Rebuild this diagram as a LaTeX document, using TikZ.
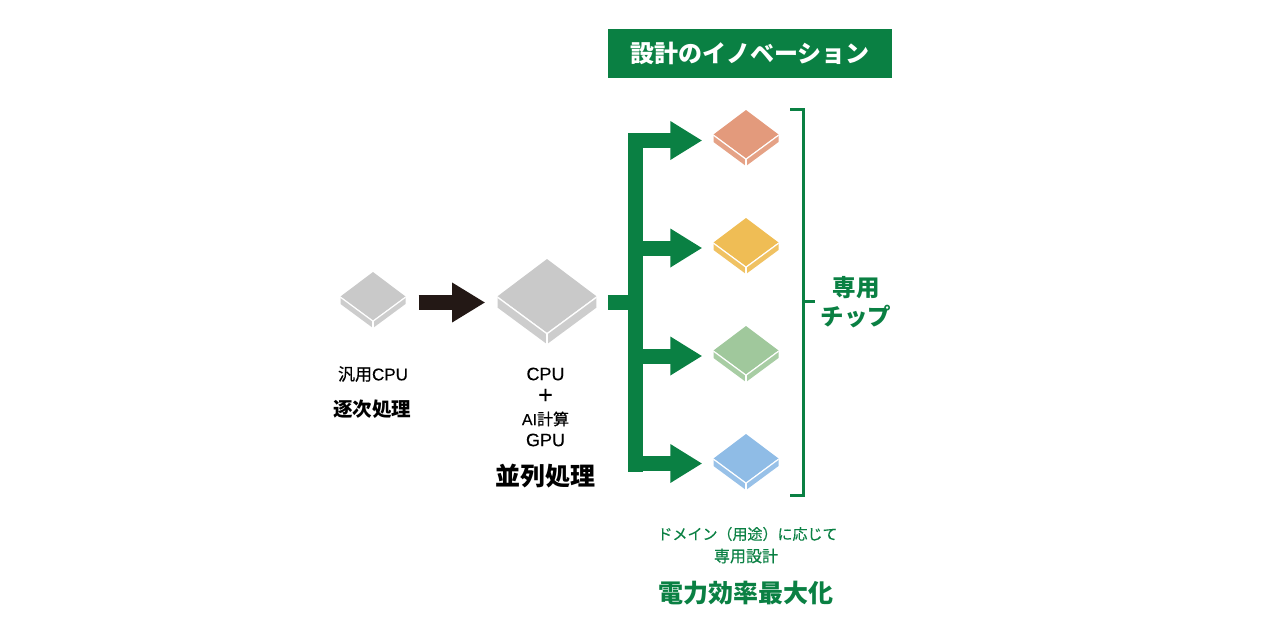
\documentclass[tikz,border=0pt]{standalone}
\usepackage{fontspec}
\setmainfont{Noto Sans CJK JP}
\newfontfamily\latinfont{Liberation Sans}[FakeBold=0.2]
\newfontfamily\smallfont{Noto Sans CJK JP}[FakeBold=0.3]
\usepackage{xcolor}
\usetikzlibrary{arrows.meta,positioning}
\definecolor{innogreen}{HTML}{0A8043}
\definecolor{flowblack}{HTML}{231815}
\definecolor{chipgray}{HTML}{C9C9C9}
\definecolor{chiporange}{HTML}{E39A7C}
\definecolor{chipyellow}{HTML}{EFBD55}
\definecolor{chipgreen}{HTML}{A0C89C}
\definecolor{chipblue}{HTML}{8FBCE6}
% size in reference pixels (1px = 0.03cm)
\newcommand{\pxfont}[1]{\fontsize{\the\dimexpr #1pt*8536/10000\relax}{\the\dimexpr #1pt\relax}\selectfont}
\newcommand{\chip}[5]{%
  \begin{scope}[shift={(#2,#3)},scale=#4]
    \fill[#5!92!white] (-32.5,0) -- (-32.5,7) -- (0,31) -- (32.5,7) -- (32.5,0) -- (0,24) -- cycle;
    \fill[#5] (-32.5,-.5) -- (0,-25) -- (32.5,-.5) -- (0,23.5) -- cycle;
    \draw[white, line width=.036cm, line join=round] (-32.5,.2) -- (0,24.2) -- (32.5,.2);
    \draw[white, line width=.036cm] (0,24.2) -- (0,31);
    \node[chipbox, transform shape] (#1) at (0,0) {};
  \end{scope}}
\begin{document}
\begin{tikzpicture}[
    x=.03cm, y=-.03cm,
    chipbox/.style={rectangle, minimum width=1.95cm, minimum height=1.5cm, inner sep=0pt},
    bus/.style={draw=innogreen, line width=.45cm},
    busarrow/.style={bus, -{Triangle[length=.96cm,width=1.1cm]}, shorten >=.33cm},
    flowarrow/.style={draw=flowblack, line width=.45cm, -{Triangle[length=.99cm,width=1.12cm]}, shorten <=.39cm, shorten >=.36cm},
    bracket/.style={draw=innogreen, line width=.09cm},
    plain/.style={inner sep=0pt, text=black},
    greentext/.style={inner sep=0pt, text=innogreen}
]
    \useasboundingbox (0,0) rectangle (1280,640);

    \node[rectangle, fill=innogreen, text=white, minimum width=8.52cm, minimum height=1.47cm, inner sep=0pt, font=\pxfont{24}\bfseries] (header) at (750,53.5) {設計のイノベーション};

    % chips
    \chip{cpu}{373}{297}{1}{chipgray}
    \chip{gpu}{547}{297}{1.52}{chipgray}
    \chip{orange}{746}{135}{1}{chiporange}
    \chip{yellow}{746}{243}{1}{chipyellow}
    \chip{green}{746}{351}{1}{chipgreen}
    \chip{blue}{746}{459}{1}{chipblue}

    % flow
    \coordinate (flow) at (500,302.5);
    \draw[flowarrow] (cpu.east |- flow) -- (gpu.west |- flow);

    \coordinate (bustop) at (635,133);
    \coordinate (busbot) at (635,472);
    \coordinate (bus1) at (635,140.5);
    \coordinate (bus2) at (635,248);
    \coordinate (bus3) at (635,356);
    \coordinate (bus4) at (635,463.5);
    \draw[bus] (bustop) -- (busbot);
    \draw[bus, shorten <=.33cm] (gpu.east |- flow) -- (flow -| bustop);
    \draw[busarrow] (bus1) -- (bus1 -| orange.west);
    \draw[busarrow] (bus2) -- (bus2 -| yellow.west);
    \draw[busarrow] (bus3) -- (bus3 -| green.west);
    \draw[busarrow] (bus4) -- (bus4 -| blue.west);

    % bracket
    \coordinate (brtop) at (790,109);
    \coordinate (brbot) at (790,495);
    \coordinate (brmid) at (803,301);
    \coordinate (brtick) at (815,301);
    \draw[bracket] (brtop) -| (brmid) |- (brbot);
    \draw[bracket] (brmid) -- (brtick);

    % labels
    \node[plain, font=\pxfont{17}\smallfont] (cpulabel) at (373,374) {汎用{\latinfont CPU}};
    \node[plain, font=\pxfont{19.5}\bfseries] (cpumode) at (372,409) {逐次処理};
    \node[plain, font=\pxfont{18}\latinfont] (gpuline1) at (545.5,374) {CPU};
    \node[plain, font=\pxfont{25}\latinfont] (gpuline2) at (545.5,396) {+};
    \node[plain, font=\pxfont{16}\smallfont] (gpuline3) at (545.5,419) {{\latinfont AI}計算};
    \node[plain, font=\pxfont{18}\latinfont] (gpuline4) at (545.5,440) {GPU};
    \node[plain, font=\pxfont{25}\bfseries] (gpumode) at (545.5,476) {並列処理};

    \node[greentext, font=\pxfont{23.5}\bfseries] (chipline1) at (856,288) {専用};
    \node[greentext, font=\pxfont{23.5}\bfseries] (chipline2) at (856,317) {チップ};

    \node[greentext, font=\pxfont{15}\smallfont] (domain1) at (747.5,534) {ドメイン（用途）に応じて};
    \node[greentext, font=\pxfont{16}\smallfont] (domain2) at (746,556) {専用設計};
    \node[greentext, font=\pxfont{25}\bfseries] (domain3) at (746,593) {電力効率最大化};
\end{tikzpicture}
\end{document}
